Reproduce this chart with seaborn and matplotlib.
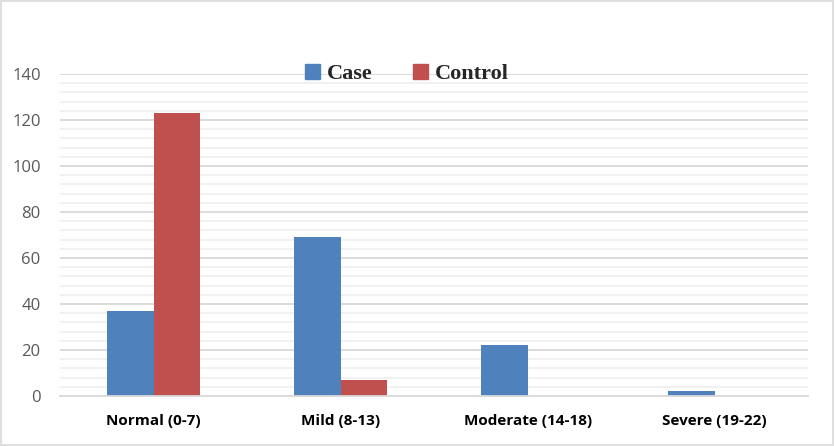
import matplotlib
matplotlib.use("Agg")
import matplotlib.pyplot as plt
import pandas as pd
import seaborn as sns
from matplotlib.ticker import MultipleLocator
from matplotlib.patches import Rectangle

categories = ["Normal (0-7)", "Mild (8-13)", "Moderate (14-18)", "Severe (19-22)"]
case_vals = [37, 69, 22, 2]
control_vals = [123, 7, 0, 0]
groups = ["Case", "Control"]
colors = ["#4F81BD", "#C0504D"]

df = pd.DataFrame({
    "category": categories * 2,
    "value": case_vals + control_vals,
    "group": [groups[0]] * 4 + [groups[1]] * 4,
})

sns.set_theme(style="white")
plt.rcParams['font.family'] = ['Open Sans', 'DejaVu Sans']

fig = plt.figure(figsize=(8.35, 4.46), dpi=100)
ax = fig.add_axes([0.072, 0.112, 0.896, 0.722])

sns.barplot(data=df, x="category", y="value", hue="group", palette=colors,
            width=0.5, saturation=1, ax=ax, order=categories, hue_order=groups,
            linewidth=0)

ax.set_ylim(0, 140)
ax.yaxis.set_major_locator(MultipleLocator(20))
ax.yaxis.set_minor_locator(MultipleLocator(4))
ax.grid(which="major", axis="y", color="#d9d9d9", lw=1.3)
ax.grid(which="minor", axis="y", color="#f0f0f0", lw=1.3)
ax.set_axisbelow(True)
for s in ["top", "right", "left"]:
    ax.spines[s].set_visible(False)
ax.spines["bottom"].set_color("#d9d9d9")
ax.spines["bottom"].set_linewidth(1.3)
ax.tick_params(axis="both", which="both", length=0)
ax.tick_params(axis="y", labelsize=12, labelcolor="#595959", pad=14)
ax.tick_params(axis="x", labelsize=11, labelcolor="black", pad=13)
for lbl in ax.get_xticklabels():
    lbl.set_fontweight("bold")
ax.set_xlabel("")
ax.set_ylabel("")

ax.legend_.remove()
handles = [Rectangle((0, 0), 1, 1, color=c) for c in colors]
fig.legend(handles, groups, loc="center", bbox_to_anchor=(0.487, 0.834), ncol=2,
           frameon=False, handlelength=0.7, handleheight=0.7, handletextpad=0.3,
           columnspacing=1.8, prop={"family": "Liberation Serif", "weight": "bold", "size": 16})

fig.patches.append(Rectangle((0.001, 0.002), 0.997, 0.996, transform=fig.transFigure,
                             fill=False, edgecolor="#d9d9d9", lw=1.2))

fig.savefig("out.png", dpi=100)
